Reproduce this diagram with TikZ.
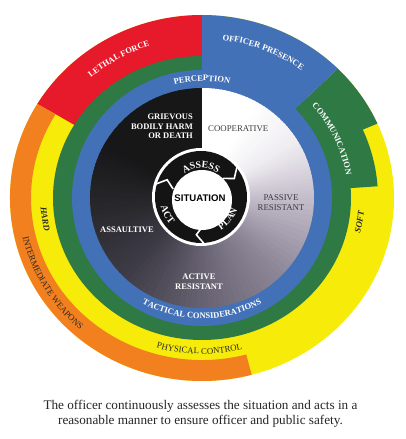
\documentclass[tikz,border=0pt]{standalone}
\usepackage{fontspec}
\setmainfont{Liberation Serif}
\setsansfont{Liberation Sans}
\usetikzlibrary{decorations.text,calc}
\definecolor{cRed}{HTML}{E71A2C}
\definecolor{cBlue}{HTML}{4271B7}
\definecolor{cGreen}{HTML}{2F7944}
\definecolor{cYellow}{HTML}{F7EB0A}
\definecolor{cOrange}{HTML}{F2801F}
\definecolor{W0}{HTML}{FFFFFF}
\definecolor{W1}{HTML}{EEECF0}
\definecolor{W2}{HTML}{C4BDCB}
\definecolor{W3}{HTML}{8C8596}
\definecolor{W4}{HTML}{676271}
\definecolor{K0}{HTML}{171718}
\definecolor{K1}{HTML}{252528}
\definecolor{K2}{HTML}{3D3B46}
\definecolor{txtGrey}{HTML}{3E3A42}
\definecolor{txtDark}{HTML}{2A2A20}
\newcommand\lblfont{\bfseries\fontsize{8.5}{8.5}\selectfont}
\newcommand\lblreg{\fontsize{8.8}{8.8}\selectfont}
\newcommand\inbold{\bfseries\fontsize{8.5}{9.5}\selectfont}
\newcommand\inreg{\fontsize{8.8}{9.5}\selectfont}
\newcommand\cycfont{\bfseries\fontsize{9.8}{9.8}\selectfont}
\tikzset{
  intext/.style={text=white, font=\inbold, inner sep=0pt},
  ingrey/.style={text=txtGrey, font=\inreg, inner sep=0pt},
  caption/.style={font=\fontsize{13.2}{15}\selectfont, inner sep=0pt, anchor=base, text=black!85}
}
\begin{document}
\begin{tikzpicture}[x=1pt,y=1pt]
\useasboundingbox (-202,-241) rectangle (203,198);
\fill[white] (-202,-241) rectangle (203,198);
% outer rings
\fill[cYellow] (0,0) ellipse [x radius=192, y radius=183];
\fill[cOrange] (149:192 and 183) arc[start angle=149, end angle=285, x radius=192, y radius=183]
  -- (285:171 and 162) arc[start angle=285, end angle=149, x radius=171, y radius=162] -- cycle;
\fill[cRed] (0,0) -- (90:192 and 183) arc[start angle=90, end angle=149, x radius=192, y radius=183] -- cycle;
\fill[cGreen] (0,0) -- (45:192 and 183) arc[start angle=45, end angle=24, x radius=192, y radius=183]
  -- (24:176 and 168) arc[start angle=24, end angle=4, x radius=176, y radius=168] -- cycle;
\fill[cGreen] (0,0) ellipse [x radius=149, y radius=142];
\fill[cBlue] (0,0) -- (90:192 and 183) arc[start angle=90, end angle=45, x radius=192, y radius=183] -- cycle;
\fill[cBlue] (0,0) ellipse [x radius=130, y radius=128];
% shaded disc
\begin{scope}
\clip (0,0) ellipse [x radius=112, y radius=110];
\foreach \a/\b/\ca/\cb in {90/60/W0/W0, 60/30/W0/W1, 30/0/W1/W2, 0/-45/W2/W3, -45/-90/W3/W4,
                           90/150/K0/K0, 150/180/K0/K1, 180/225/K1/K2, 225/270/K2/W4}{
  \foreach \t in {0,...,14}{
    \pgfmathsetmacro\s{\a+(\b-\a)*\t/15}
    \pgfmathsetmacro\e{\a+(\b-\a)*(\t+1)/15+0.6*sign(\b-\a)}
    \pgfmathtruncatemacro\p{100-100*(\t+0.5)/15}
    \fill[\ca!\p!\cb] (0,0) -- (\s:130) arc[start angle=\s, end angle=\e, radius=130] -- cycle;
  }
}
\end{scope}
% ring labels
\path[decorate, decoration={text along path, text align=center, text color=white, text={|\lblfont|PERCEPTION}}]
  (160:118 and 117) arc[start angle=160, end angle=20, x radius=118, y radius=117];
\path[decorate, decoration={text along path, text align=center, text color=white, text={|\lblfont|TACTICAL CONSIDERATIONS}}]
  (190:124 and 120.5) arc[start angle=190, end angle=350, x radius=124, y radius=120.5];
\path[decorate, decoration={text along path, text align=center, text color=white, text={|\lblfont|LETHAL FORCE}}]
  (150:168 and 160) arc[start angle=150, end angle=90, x radius=168, y radius=160];
\path[decorate, decoration={text along path, text align=center, text color=white, text={|\lblfont|OFFICER PRESENCE}}]
  (101:167 and 159) arc[start angle=101, end angle=35, x radius=167, y radius=159];
\path[decorate, decoration={text along path, text align=center, text color=white, text={|\lblfont|COMMUNICATION}}]
  (60:146 and 140) arc[start angle=60, end angle=-10, x radius=146, y radius=140];
\path[decorate, decoration={text along path, text align=center, text color=txtDark, text={|\lblreg|PHYSICAL CONTROL}}]
  (200:163 and 156) arc[start angle=200, end angle=338, x radius=163, y radius=156];
\path[decorate, decoration={text along path, text align=center, text color=txtDark, text={|\lblreg|INTERMEDIATE WEAPONS}}]
  (150:184 and 176) arc[start angle=150, end angle=270, x radius=184, y radius=176];
\path[decorate, decoration={text along path, text align=center, text color=txtDark, text={|\lblreg\bfseries\itshape|HARD}}]
  (160:161.5 and 153) arc[start angle=160, end angle=216, x radius=161.5, y radius=153];
\path[decorate, decoration={text along path, text align=center, text color=txtDark, text={|\lblreg\bfseries\itshape|SOFT}}]
  (-40:162.5 and 155) arc[start angle=-40, end angle=22, x radius=162.5, y radius=155];
% inner labels
\node[intext, anchor=north east, align=right] (gbh) at (-9,84) {GRIEVOUS\\BODILY HARM\\OR DEATH};
\node[ingrey, anchor=west] (coop) at (6,69.3) {COOPERATIVE};
\node[ingrey, align=center] (pass) at (79,-4.5) {PASSIVE\\RESISTANT};
\node[intext] (assa) at (-75,-31.3) {ASSAULTIVE};
\node[intext, align=center] (actr) at (-3,-83.7) {ACTIVE\\RESISTANT};
% central cycle
\coordinate (cc) at (-1,1);
\fill[white] (cc) circle[radius=49];
\fill[black!92] (cc) circle[radius=46];
\fill[white] (0,-2) circle[radius=30];
\foreach \g in {158, 34, 268}{
  \draw[white, line width=1.6pt, line join=miter] ($(cc)+(\g+6:47)$) -- ($(cc)+(\g-5:38)$) -- ($(cc)+(\g+6:29)$);
}
\node[font=\sffamily\bfseries\fontsize{9.6}{9.6}\selectfont, inner sep=0pt] (sit) at (-2,0) {SITUATION};
\path[decorate, decoration={text along path, text align=center, text color=white, text={|\cycfont|ASSESS}}]
  ($(cc)+(150:29)$) arc[start angle=150, end angle=30, radius=29];
\path[decorate, decoration={text along path, text align=center, text color=white, text={|\cycfont|PLAN}}]
  ($(cc)+(-89:38.5)$) arc[start angle=-89, end angle=11, radius=38.5];
\path[decorate, decoration={text along path, text align=center, text color=white, text={|\cycfont|ACT}}]
  ($(cc)+(163:41.5)$) arc[start angle=163, end angle=253, radius=41.5];
% caption
\node[caption] (cap1) at (-1.5,-211) {The officer continuously assesses the situation and acts in a};
\node[caption] (cap2) at (-1.5,-226) {reasonable manner to ensure officer and public safety.};
\end{tikzpicture}
\end{document}
